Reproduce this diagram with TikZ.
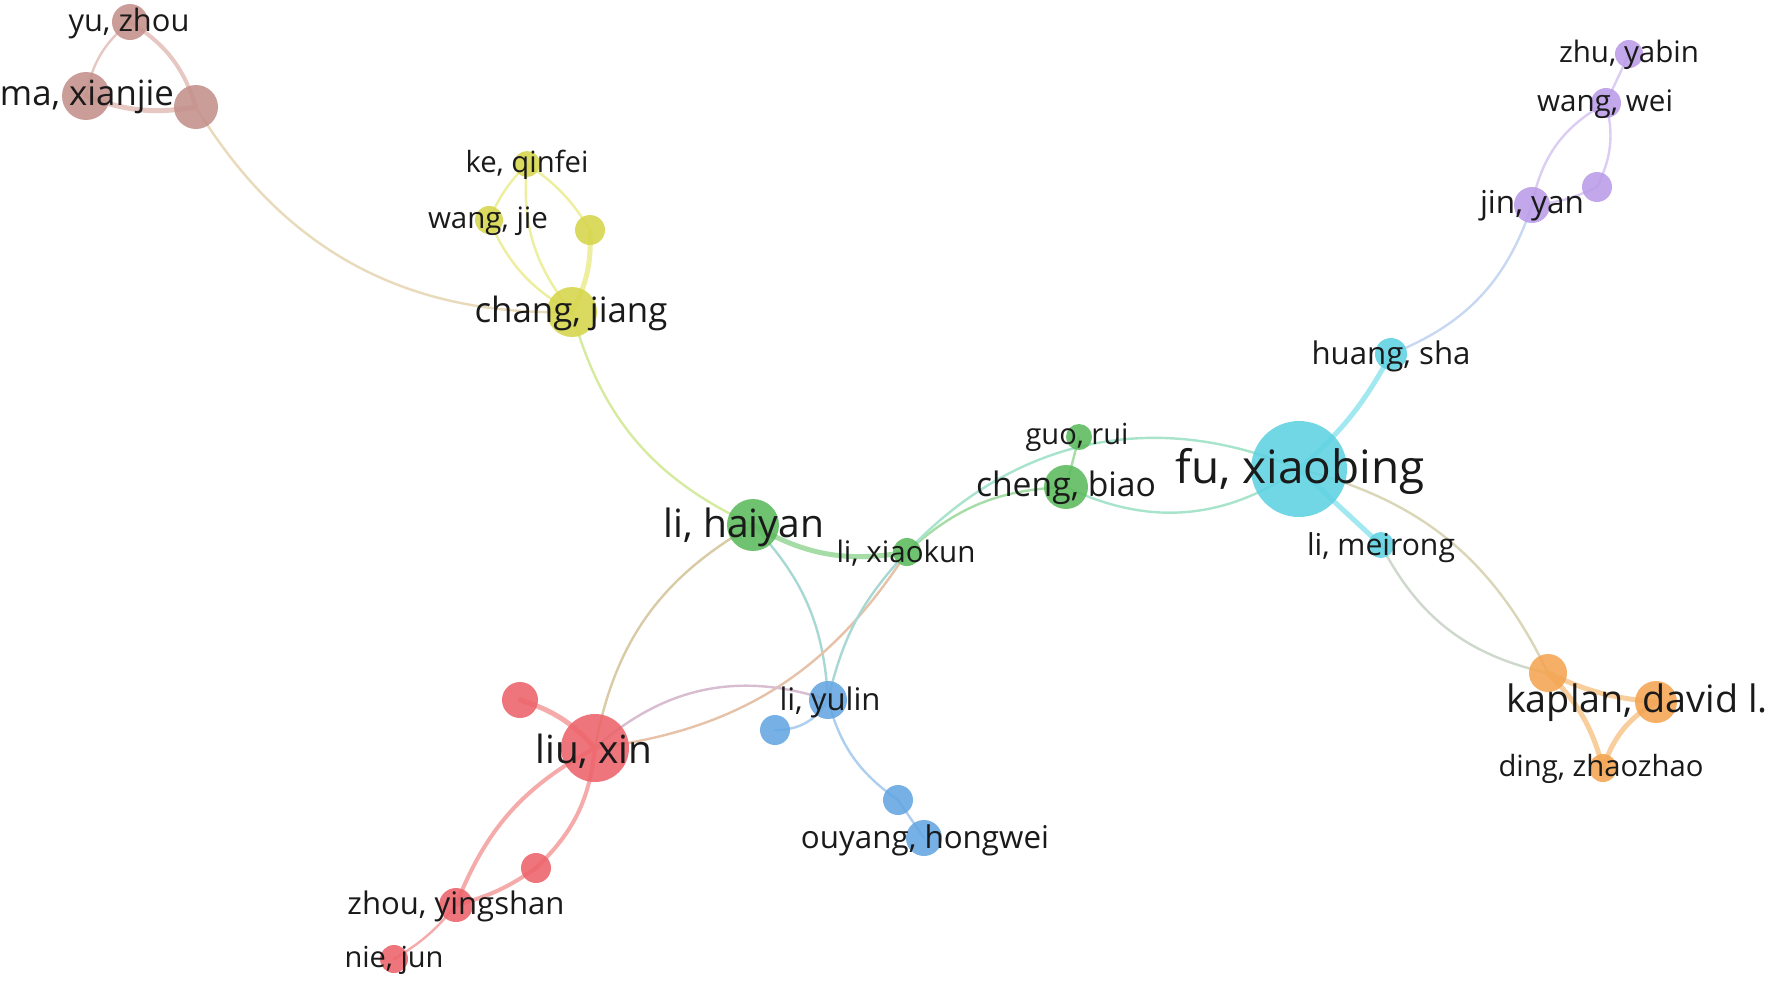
\documentclass[tikz,border=0pt]{standalone}
\usepackage{fontspec}
\usepackage{graphicx}
\setmainfont{Open Sans}
\definecolor{brN}{HTML}{C4908A}\definecolor{brE}{HTML}{E6C7C2}
\definecolor{yeN}{HTML}{D6D64C}\definecolor{yeE}{HTML}{EDEE9E}
\definecolor{grN}{HTML}{5CBA5C}\definecolor{grE}{HTML}{A6DDA6}
\definecolor{rdN}{HTML}{EC636A}\definecolor{rdE}{HTML}{F6ABAB}
\definecolor{blN}{HTML}{64A6E2}\definecolor{blE}{HTML}{AECFEF}
\definecolor{cyN}{HTML}{5ED2E2}\definecolor{cyE}{HTML}{A2E8F0}
\definecolor{puN}{HTML}{BA9BE8}\definecolor{puE}{HTML}{DCCDF3}
\definecolor{orN}{HTML}{F4A551}\definecolor{orE}{HTML}{F8CE9D}
\definecolor{byE}{HTML}{E8DABA}\definecolor{ygE}{HTML}{D6EBA0}
\definecolor{grrdE}{HTML}{D8CBA6}\definecolor{gr2rdE}{HTML}{E6C2A8}
\definecolor{gbE}{HTML}{A8D8D4}\definecolor{rbE}{HTML}{D8BCD0}
\definecolor{gcE}{HTML}{A8E4CC}\definecolor{cpE}{HTML}{C8D8F2}
\definecolor{coE}{HTML}{DCD6B8}\definecolor{co2E}{HTML}{CED8CC}
\definecolor{txt}{HTML}{1A1A1A}
\tikzset{
  vnode/.style={circle,inner sep=0pt,fill opacity=0.88,draw=none},
  vlab/.style={inner sep=0pt,text=txt,font=\normalsize},
  lk/.style={line width=#1,line cap=round},
  lk/.default=1.2pt
}
\newcommand\vn[5]{\node[vnode,fill=#5,minimum size=#4pt] (#1) at (#2,#3) {};}
\newcommand\vl[5]{\node[vlab] (#1l) at (#2,#3) {\resizebox{#4pt}{!}{#5}};}
\begin{document}
\begin{tikzpicture}[x=0.5pt,y=-0.5pt]
\fill[white] (0,0) rectangle (1772,980);
\useasboundingbox (0,0) rectangle (1772,980);
% coordinates for nodes (drawn later)
\coordinate (yu) at (130,22);
\coordinate (ma) at (86,96);
\coordinate (br) at (196,107);
\coordinate (ke) at (527,164);
\coordinate (wj) at (489,220);
\coordinate (ye) at (590,230);
\coordinate (ch) at (572,312);
\coordinate (zhu) at (1629,54);
\coordinate (ww) at (1606,103);
\coordinate (pu) at (1597,187);
\coordinate (jin) at (1532,205);
\coordinate (hs) at (1391,354);
\coordinate (fu) at (1299,469);
\coordinate (lm) at (1381,545);
\coordinate (guo) at (1079,437);
\coordinate (cb) at (1066,487);
\coordinate (lh) at (753,525);
\coordinate (lx) at (907,552);
\coordinate (ly) at (828,700);
\coordinate (bu) at (775,730);
\coordinate (bs) at (898,800);
\coordinate (oy) at (924,838);
\coordinate (liu) at (595,748);
\coordinate (ru) at (520,700);
\coordinate (rs) at (536,868);
\coordinate (zy) at (456,905);
\coordinate (nie) at (394,959);
\coordinate (ou) at (1548,673);
\coordinate (ka) at (1656,702);
\coordinate (di) at (1603,768);
% edges
\draw[lk,brE] (yu) to[bend right=20] (ma);
\draw[lk=2pt,brE] (yu) to[bend left=20] (br);
\draw[lk=2.5pt,brE] (ma) to[bend right=15] (br);
\draw[lk,byE] (br) to[bend right=30] (ch);
\draw[lk,yeE] (ke) to[bend right=10] (wj);
\draw[lk,yeE] (ke) to[bend left=12] (ye);
\draw[lk,yeE] (ke) to[bend right=22] (ch);
\draw[lk,yeE] (wj) to[bend right=18] (ch);
\draw[lk=2.5pt,yeE] (ye) to[bend left=15] (ch);
\draw[lk,ygE] (ch) to[bend right=25] (lh);
\draw[lk=2.5pt,grE] (lh) to[bend right=20] (lx);
\draw[lk,grE] (lx) to[bend left=20] (cb);
\draw[lk,gcE] (lx) to[bend left=35] (fu);
\draw[lk,gcE] (cb) to[bend right=30] (fu);
\draw[lk,grE] (guo) -- (cb);
\draw[lk,gbE] (lh) to[bend left=20] (ly);
\draw[lk,grrdE] (lh) to[bend right=25] (liu);
\draw[lk,gr2rdE] (lx) to[bend left=25] (liu);
\draw[lk,gbE] (lx) to[bend right=15] (ly);
\draw[lk,rbE] (liu) to[bend left=30] (ly);
\draw[lk=2.5pt,rdE] (liu) to[bend right=15] (ru);
\draw[lk=2pt,rdE] (liu) to[bend right=20] (zy);
\draw[lk=2pt,rdE] (liu) to[bend left=20] (rs);
\draw[lk=2pt,rdE] (rs) to[bend left=10] (zy);
\draw[lk,rdE] (zy) to[bend left=10] (nie);
\draw[lk,blE] (ly) to[bend left=30] (bu);
\draw[lk,blE] (ly) to[bend right=20] (bs);
\draw[lk,blE] (bs) -- (oy);
\draw[lk=2.5pt,cyE] (fu) to[bend right=10] (hs);
\draw[lk,cpE] (hs) to[bend right=25] (jin);
\draw[lk=2.5pt,cyE] (fu) -- (lm);
\draw[lk,co2E] (lm) to[bend right=25] (ou);
\draw[lk,coE] (fu) to[bend left=25] (ou);
\draw[lk,puE] (jin) to[bend left=25] (ww);
\draw[lk,puE] (ww) -- (zhu);
\draw[lk,puE] (ww) to[bend left=20] (pu);
\draw[lk,puE] (pu) to[bend left=10] (jin);
\draw[lk=2.5pt,orE] (ou) to[bend right=10] (ka);
\draw[lk=2.5pt,orE] (ou) to[bend left=15] (di);
\draw[lk=2.5pt,orE] (ka) to[bend right=20] (di);
% nodes
\vn{nyu}{130}{22}{18}{brN}
\vn{nma}{86}{96}{24}{brN}
\vn{nbr}{196}{107}{22}{brN}
\vn{nke}{527}{164}{13}{yeN}
\vn{nwj}{489}{220}{14}{yeN}
\vn{nye}{590}{230}{15}{yeN}
\vn{nch}{572}{312}{25}{yeN}
\vn{nzhu}{1629}{54}{14}{puN}
\vn{nww}{1606}{103}{15}{puN}
\vn{npu}{1597}{187}{15}{puN}
\vn{njin}{1532}{205}{18}{puN}
\vn{nhs}{1391}{354}{16}{cyN}
\vn{nfu}{1299}{469}{48}{cyN}
\vn{nlm}{1381}{545}{13}{cyN}
\vn{nguo}{1079}{437}{13}{grN}
\vn{ncb}{1066}{487}{22}{grN}
\vn{nlh}{753}{525}{26}{grN}
\vn{nlx}{907}{552}{14}{grN}
\vn{nly}{828}{700}{19}{blN}
\vn{nbu}{775}{730}{15}{blN}
\vn{nbs}{898}{800}{15}{blN}
\vn{noy}{924}{838}{18}{blN}
\vn{nliu}{595}{748}{34}{rdN}
\vn{nru}{520}{700}{18}{rdN}
\vn{nrs}{536}{868}{15}{rdN}
\vn{nzy}{456}{905}{17}{rdN}
\vn{nnie}{394}{959}{14}{rdN}
\vn{nou}{1548}{673}{19}{orN}
\vn{nka}{1656}{702}{21}{orN}
\vn{ndi}{1603}{768}{14}{orN}
% labels
\vl{yu}{129}{23}{60.5}{yu, zhou}
\vl{ma}{87}{97}{87}{ma, xianjie}
\vl{ke}{527}{165}{61.5}{ke, qinfei}
\vl{wj}{488}{221}{60}{wang, jie}
\vl{ch}{571}{313}{96.5}{chang, jiang}
\vl{zhu}{1629}{55}{70}{zhu, yabin}
\vl{ww}{1605}{104}{68}{wang, wei}
\vl{jin}{1532}{206}{52}{jin, yan}
\vl{hs}{1391}{356}{79.5}{huang, sha}
\vl{fu}{1300}{471}{124.5}{fu, xiaobing}
\vl{lm}{1381}{548}{74}{li, meirong}
\vl{guo}{1077}{437}{51.5}{guo, rui}
\vl{cb}{1066}{488}{90}{cheng, biao}
\vl{lh}{744}{527}{80}{li, haiyan}
\vl{lx}{906}{553}{69.5}{li, xiaokun}
\vl{ly}{830}{702}{50.5}{li, yulin}
\vl{oy}{925}{840}{124}{ouyang, hongwei}
\vl{liu}{594}{751}{58.5}{liu, xin}
\vl{zy}{456}{906}{108.5}{zhou, yingshan}
\vl{nie}{394}{960}{49.5}{nie, jun}
\vl{ka}{1637}{703}{131}{kaplan, david l.}
\vl{di}{1601}{769}{102.5}{ding, zhaozhao}
\end{tikzpicture}
\end{document}
